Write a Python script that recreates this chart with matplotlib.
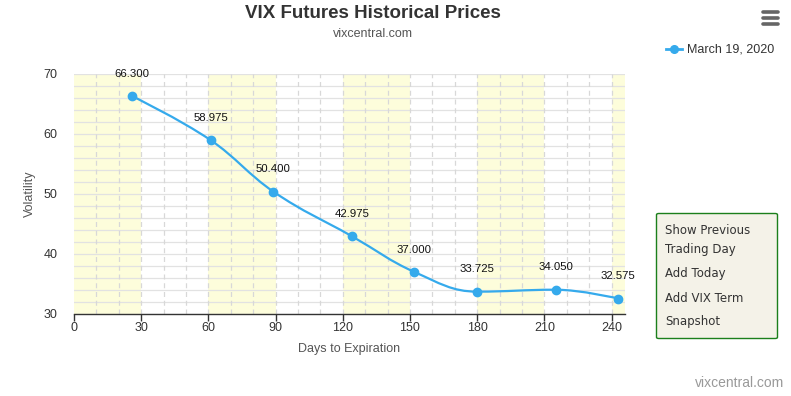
import numpy as np
import matplotlib.pyplot as plt
from matplotlib.path import Path
from matplotlib.patches import PathPatch, FancyBboxPatch

plt.rcParams['font.family'] = ['Liberation Sans', 'DejaVu Sans']

days = [26, 61, 89, 124, 152, 180, 215, 243]
prices = [66.300, 58.975, 50.400, 42.975, 37.000, 33.725, 34.050, 32.575]
series_name = 'March 19, 2020'
x_ticks = [0, 30, 60, 90, 120, 150, 180, 210, 240]
y_ticks = [30, 40, 50, 60, 70]

line_color = '#35aaec'
band_color = '#fdfddb'


def spline_path(xs, ys, smoothing=1.5):
    # bezier control points like a highcharts "spline" series
    denom = smoothing + 1
    n = len(xs)
    left = [(xs[i], ys[i]) for i in range(n)]
    right = [(xs[i], ys[i]) for i in range(n)]
    for i in range(1, n - 1):
        px, py = xs[i], ys[i]
        lx, ly = xs[i - 1], ys[i - 1]
        nx, ny = xs[i + 1], ys[i + 1]
        lcx = (smoothing * px + lx) / denom
        lcy = (smoothing * py + ly) / denom
        rcx = (smoothing * px + nx) / denom
        rcy = (smoothing * py + ny) / denom
        corr = (rcy - lcy) * (rcx - px) / (rcx - lcx) + py - rcy
        lcy += corr
        rcy += corr
        if lcy > ly and lcy > py:
            lcy = max(ly, py); rcy = 2 * py - lcy
        elif lcy < ly and lcy < py:
            lcy = min(ly, py); rcy = 2 * py - lcy
        if rcy > ny and rcy > py:
            rcy = max(ny, py); lcy = 2 * py - rcy
        elif rcy < ny and rcy < py:
            rcy = min(ny, py); lcy = 2 * py - rcy
        left[i] = (lcx, lcy)
        right[i] = (rcx, rcy)
    verts = [(xs[0], ys[0])]
    codes = [Path.MOVETO]
    for i in range(1, n):
        verts += [right[i - 1], left[i], (xs[i], ys[i])]
        codes += [Path.CURVE4] * 3
    return Path(verts, codes)


fig = plt.figure(figsize=(7.91, 3.96), dpi=100)
ax = fig.add_axes([74 / 791, 82 / 396, 551 / 791, 240 / 396])
ax.set_xlim(0, 246)
ax.set_ylim(30, 70)

# alternating bands
for start in range(0, 250, 60):
    ax.axvspan(start, start + 30, color=band_color, zorder=0, lw=0)

# grid
for y in np.arange(30, 71, 2):
    ax.axhline(y, color='#e2e2e2', lw=0.9, zorder=1)
for x in range(10, 250, 10):
    ax.axvline(x, color='#d8d8d8', lw=0.9, ls=(0, (4, 3)), zorder=1)

ax.add_patch(PathPatch(spline_path(days, prices), fill=False, ec=line_color,
                       lw=1.6, zorder=3, capstyle='round', joinstyle='round'))
ax.plot(days, prices, 'o', color=line_color, ms=6, zorder=4)
for d, p in zip(days, prices):
    ax.annotate(f'{p:.3f}', (d, p), xytext=(0, 16), textcoords='offset points',
                ha='center', va='center', fontsize=8.2, color='#111111', zorder=5,
                annotation_clip=False)

for s in ['top', 'right', 'left']:
    ax.spines[s].set_visible(False)
ax.spines['bottom'].set_color('#333333')
ax.spines['bottom'].set_linewidth(1)
ax.set_xticks(x_ticks)
ax.set_yticks(y_ticks)
ax.tick_params(axis='x', length=5, width=1, color='#333333', labelsize=9,
               labelcolor='#333333', pad=1)
ax.tick_params(axis='y', length=0, labelsize=9, labelcolor='#333333', pad=12)
ax.set_xlabel('Days to Expiration', fontsize=9, color='#555555', labelpad=6)
ax.set_ylabel('Volatility', fontsize=9, color='#555555', labelpad=5)

fig.text(373 / 791, 1 - 13 / 396, 'VIX Futures Historical Prices', ha='center',
         va='center', fontsize=13.5, fontweight='bold', color='#333333')
fig.text(373 / 791, 1 - 34 / 396, 'vixcentral.com', ha='center', va='center',
         fontsize=9, color='#555555')

# legend
fig.lines.append(plt.Line2D([666 / 791, 682 / 791], [1 - 49 / 396] * 2,
                            color=line_color, lw=2, transform=fig.transFigure))
fig.lines.append(plt.Line2D([674 / 791], [1 - 49 / 396], marker='o', ms=5.5,
                            color=line_color, transform=fig.transFigure))
fig.text(687 / 791, 1 - 49 / 396, series_name, ha='left', va='center',
         fontsize=9, color='#333333')

# menu icon
for yy in (12, 18, 24):
    fig.lines.append(plt.Line2D([763 / 791, 778 / 791], [1 - yy / 396] * 2,
                                color='#666666', lw=2.6, solid_capstyle='round',
                                transform=fig.transFigure))

# button box
fig.patches.append(FancyBboxPatch((656.5 / 791, 1 - 338.5 / 396), 121 / 791, 125 / 396,
                                  boxstyle='round,pad=0,rounding_size=0.003',
                                  fc='#f4f2e8', ec='#1b7f1b', lw=1,
                                  transform=fig.transFigure))
for txt, yy in [('Show Previous', 230), ('Trading Day', 250), ('Add Today', 273),
                ('Add VIX Term', 298), ('Snapshot', 322)]:
    fig.text(665 / 791, 1 - yy / 396, txt, ha='left', va='center', fontsize=8.5,
             color='#333333', family='DejaVu Sans')

fig.text(784 / 791, 1 - 383 / 396, 'vixcentral.com', ha='right', va='center',
         fontsize=10, color='#999999')

fig.savefig('out.png', dpi=100)
